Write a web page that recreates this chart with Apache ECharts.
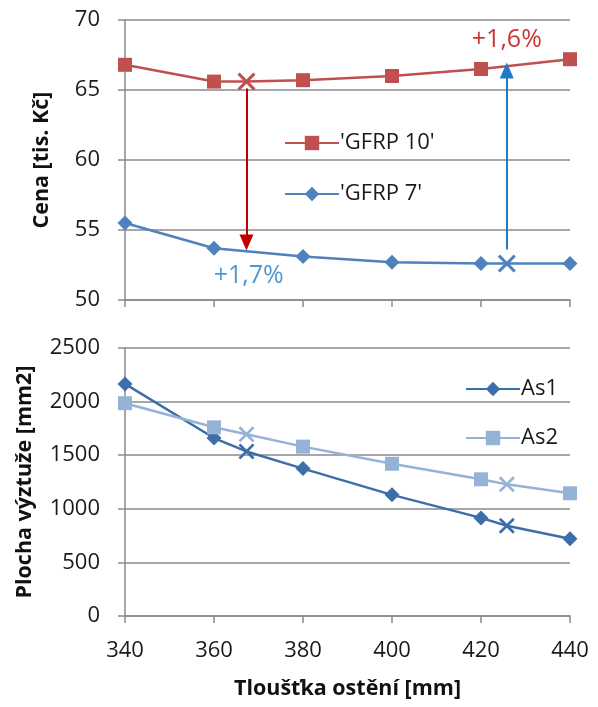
<!DOCTYPE html>
<html>
<head>
<meta charset="utf-8">
<script src="https://cdn.jsdelivr.net/npm/echarts@6/dist/echarts.min.js"></script>
<style>
  html, body { margin: 0; padding: 0; background: #fff; }
  #chart { width: 598px; height: 707px; }
</style>
</head>
<body>
<div id="chart"></div>
<script>
// Wall thickness [mm]
const thickness = [340, 360, 380, 400, 420, 440];

// Price [thousand CZK]
const gfrp10 = [66.8, 65.6, 65.7, 66.0, 66.5, 67.2];
const gfrp7 = [55.5, 53.7, 53.1, 52.7, 52.6, 52.6];
const gfrp10Mark = [367.3, 65.6];
const gfrp7Mark = [425.8, 52.6];

// Reinforcement area [mm2]
const as1 = [2165, 1660, 1375, 1130, 915, 720];
const as2 = [1985, 1760, 1580, 1420, 1275, 1145];
const as1Marks = [[367.3, 1535], [425.8, 842]];
const as2Marks = [[367.3, 1695], [425.8, 1228]];

// Arrows and percentage labels
const arrowDown = [[367.3, 65.1], [367.3, 54.1]];
const arrowUp = [[425.8, 53.6], [425.8, 66.4]];
const pctLabels = [
  { text: '+1,7%', at: [367.8, 51.7], color: '#1E7EC8' },
  { text: '+1,6%', at: [425.8, 68.6], color: '#C00000' }
];

const FONT = 'Open Sans';
const GRID_COLOR = '#8a8a8a';
const TEXT_COLOR = '#1a1a1a';
const X_MARK = 'path://M0,1.2 L1.2,0 L5,3.8 L8.8,0 L10,1.2 L6.2,5 L10,8.8 L8.8,10 L5,6.2 L1.2,10 L0,8.8 L3.8,5 Z';

function withMarks(xs, ys, marks, markSize) {
  const pts = xs.map((x, i) => [x, ys[i]]);
  marks.forEach(m => pts.push({ value: m, symbol: X_MARK, symbolSize: markSize }));
  pts.sort((a, b) => (a.value || a)[0] - (b.value || b)[0]);
  return pts;
}

const titleStyle = { fontFamily: FONT, fontSize: 21.5, fontWeight: 'bold', color: '#111' };

const xAxisBase = {
  type: 'value', min: 340, max: 440, interval: 20,
  axisLine: { show: true, lineStyle: { color: GRID_COLOR, width: 1.5 } },
  axisTick: { show: true, length: 7, lineStyle: { color: GRID_COLOR, width: 1.5 } },
  splitLine: { show: false }
};
const yAxisBase = {
  type: 'value',
  axisLine: { show: true, lineStyle: { color: GRID_COLOR, width: 1.5 } },
  axisTick: { show: true, length: 7, inside: false, lineStyle: { color: GRID_COLOR, width: 1.5 } },
  splitLine: { show: true, lineStyle: { color: GRID_COLOR, width: 1.5 } },
  axisLabel: { fontFamily: FONT, fontSize: 22, color: TEXT_COLOR, margin: 25, formatter: v => String(v) },
  nameLocation: 'middle',
  nameTextStyle: titleStyle
};

const legendText = { fontFamily: FONT, fontSize: 22, color: TEXT_COLOR, lineHeight: 20, padding: [0, 0, 0, -4] };

const chart = echarts.init(document.getElementById('chart'), null, { renderer: 'canvas' });
chart.setOption({
  animation: false,
  backgroundColor: '#fff',
  grid: [
    { left: 125, right: 28, top: 20, height: 280 },
    { left: 125, right: 28, top: 348, height: 268 }
  ],
  xAxis: [
    Object.assign({}, xAxisBase, { gridIndex: 0, axisLabel: { show: false } }),
    Object.assign({}, xAxisBase, {
      gridIndex: 1,
      axisLabel: { fontFamily: FONT, fontSize: 22, color: TEXT_COLOR, margin: 24, formatter: v => String(v) },
      name: 'Tloušťka ostění [mm]', nameLocation: 'middle', nameGap: 62,
      nameTextStyle: titleStyle
    })
  ],
  yAxis: [
    Object.assign({}, yAxisBase, { gridIndex: 0, min: 50, max: 70, interval: 5,
      name: 'Cena [tis. Kč]', nameGap: 72 }),
    Object.assign({}, yAxisBase, { gridIndex: 1, min: 0, max: 2500, interval: 500,
      name: 'Plocha výztuže [mm2]', nameGap: 89 })
  ],
  legend: [
    {
      data: ["'GFRP 10'", "'GFRP 7'"],
      orient: 'vertical', left: 279, top: 127,
      itemWidth: 54, itemHeight: 18, itemGap: 29,
      textStyle: legendText
    },
    {
      data: ['As1', 'As2'],
      orient: 'vertical', left: 460, top: 373,
      itemWidth: 54, itemHeight: 18, itemGap: 27,
      textStyle: legendText
    }
  ],
  series: [
    {
      name: "'GFRP 10'", type: 'line', xAxisIndex: 0, yAxisIndex: 0,
      data: withMarks(thickness, gfrp10, [gfrp10Mark], 18),
      symbol: 'rect', symbolSize: 14,
      itemStyle: { color: '#C0504D' }, lineStyle: { color: '#C0504D', width: 2.5 },
      markLine: {
        silent: true, symbol: ['none', 'triangle'], symbolSize: [14, 16],
        lineStyle: { color: '#C00000', width: 2, type: 'solid' }, label: { show: false },
        data: [[{ coord: arrowDown[0] }, { coord: arrowDown[1] }]]
      }
    },
    {
      name: "'GFRP 7'", type: 'line', xAxisIndex: 0, yAxisIndex: 0,
      data: withMarks(thickness, gfrp7, [gfrp7Mark], 18),
      symbol: 'diamond', symbolSize: 15,
      itemStyle: { color: '#4F81BD' }, lineStyle: { color: '#4F81BD', width: 2.5 },
      markLine: {
        silent: true, symbol: ['none', 'triangle'], symbolSize: [14, 16],
        lineStyle: { color: '#1F7BC8', width: 2, type: 'solid' }, label: { show: false },
        data: [[{ coord: arrowUp[0] }, { coord: arrowUp[1] }]]
      }
    },
    {
      type: 'scatter', xAxisIndex: 0, yAxisIndex: 0, symbolSize: 0, silent: true,
      data: pctLabels.map(p => ({
        value: p.at,
        label: { show: true, position: 'inside', formatter: p.text,
          fontFamily: FONT, fontSize: 25, color: p.color }
      }))
    },
    {
      name: 'As1', type: 'line', xAxisIndex: 1, yAxisIndex: 1,
      data: withMarks(thickness, as1, as1Marks, 16),
      symbol: 'diamond', symbolSize: 15,
      itemStyle: { color: '#3C6EAA' }, lineStyle: { color: '#3C6EAA', width: 2.5 }
    },
    {
      name: 'As2', type: 'line', xAxisIndex: 1, yAxisIndex: 1,
      data: withMarks(thickness, as2, as2Marks, 16),
      symbol: 'rect', symbolSize: 14,
      itemStyle: { color: '#95B3D7' }, lineStyle: { color: '#95B3D7', width: 2.5 }
    }
  ]
});
</script>
</body>
</html>
